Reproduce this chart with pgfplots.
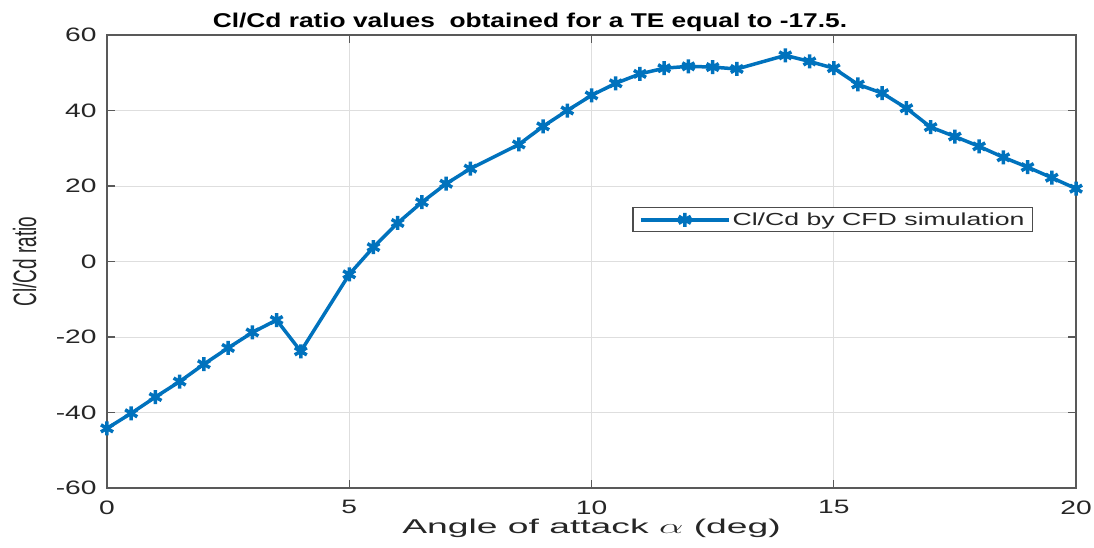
\documentclass[border=0pt]{standalone}
\usepackage{pgfplots}
\pgfplotsset{compat=1.18}
\usepackage{fontspec}
\setmainfont{Liberation Sans}
\definecolor{mblue}{RGB}{0,114,189}
\definecolor{txt}{RGB}{38,38,38}
\begin{document}
\begin{tikzpicture}[x=1bp,y=1bp]
\begin{axis}[
  scale only axis,
  width=969bp, height=453bp,
  xmin=0, xmax=20, ymin=-60, ymax=60,
  xtick={0,5,10,15,20}, ytick={-60,-40,-20,0,20,40,60},
  grid=major,
  major grid style={draw=black!13, line width=0.8bp},
  axis line style={draw=black!65, line width=1.2bp},
  tick style={draw=black!65, line width=1.2bp},
  tick align=inside,
  major tick length=8bp,
  /pgf/number format/assume math mode=true,
  ticklabel style={font=\fontsize{19.5}{21}\selectfont, text=txt},
  xticklabel={\scalebox{1.45}[1]{\pgfmathprintnumber{\tick}}},
  yticklabel={\scalebox{1.45}[1]{\pgfmathprintnumber{\tick}}},
  xticklabel style={yshift=-9bp},
  yticklabel style={xshift=-7bp},
  every axis title/.style={at={(axis description cs:0.4365,1)}, anchor=base, yshift=7bp, text=black},
  title={\fontsize{20}{22}\selectfont\bfseries\scalebox{1.32}[1]{Cl/Cd ratio values\ \ obtained for a TE equal to -17.5.}},
  xlabel={\scalebox{1.87}[1]{Angle of attack $\alpha$ (deg)}},
  xlabel style={font=\fontsize{20}{22}\selectfont, text=txt, at={(axis description cs:0.5,-0.088)}, anchor=center},
  ylabel={\scalebox{1}[1.7]{Cl/Cd ratio}},
  ylabel style={font=\fontsize{19}{21}\selectfont, text=txt, at={(axis description cs:-0.085,0.5)}, anchor=center},
  legend style={at={(0.749,0.592)}, anchor=center, font=\fontsize{17.5}{20}\selectfont,
    draw=black!70, line width=1.2bp, inner xsep=6bp, inner ysep=3bp, text=txt},
  legend cell align=left,
  legend image code/.code={\draw[mark repeat=2,mark phase=2] plot coordinates {(0bp,0bp) (44bp,0bp) (88bp,0bp)};},
]
\addplot[color=mblue, line width=3.5bp, mark=asterisk, mark size=7bp,
  mark options={line width=3.5bp}] coordinates {
(0,-44.2) (0.5,-40.2) (1,-35.9) (1.5,-31.8) (2,-27.2) (2.5,-22.9) (3,-18.8) (3.5,-15.5) (4,-23.8)
(5,-3.4) (5.5,3.8) (6,10.2) (6.5,15.7) (7,20.6) (7.5,24.6) (8.5,31.0) (9,35.8) (9.5,40.0)
(10,44.0) (10.5,47.2) (11,49.7) (11.5,51.2) (12,51.7) (12.5,51.5) (13,51.0) (14,54.6)
(14.5,53.0) (15,51.2) (15.5,46.9) (16,44.6) (16.5,40.6) (17,35.6) (17.5,33.1) (18,30.5)
(18.5,27.6) (19,25.0) (19.5,22.2) (20,19.3)
};
\addlegendentry{\scalebox{1.53}[1]{Cl/Cd by CFD simulation}}
\end{axis}
\pgfresetboundingbox
\path[use as bounding box] ([shift={(-107bp,-59bp)}]current axis.south west) rectangle ([shift={(18bp,35bp)}]current axis.north east);
\end{tikzpicture}
\end{document}
